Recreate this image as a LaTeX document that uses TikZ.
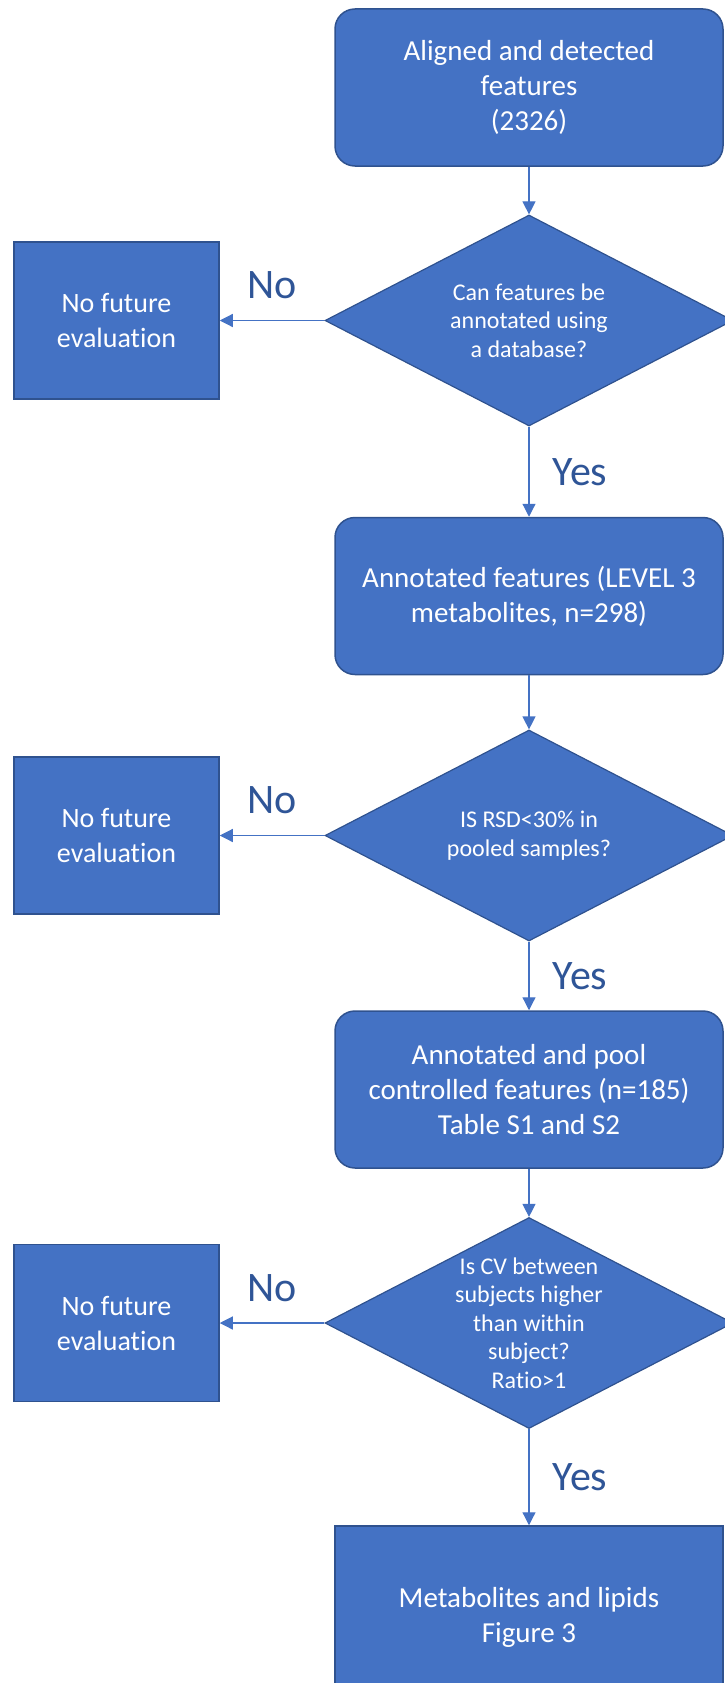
\documentclass[tikz,border=0pt]{standalone}
\usepackage{fontspec}
\setmainfont{Carlito}[Ligatures=NoCommon]
\usetikzlibrary{shapes.geometric,arrows.meta,positioning}
\definecolor{boxblue}{RGB}{68,114,196}
\definecolor{rimblue}{RGB}{47,82,143}
\definecolor{ansblue}{RGB}{47,85,151}
\tikzset{
    proc/.style={rectangle,rounded corners=20pt,fill=boxblue,draw=rimblue,line width=1.5pt,
        minimum width=388pt,minimum height=157pt,text=white,align=center,
        font=\fontsize{29}{35}\selectfont},
    outbox/.style={rectangle,fill=boxblue,draw=rimblue,line width=1.5pt,
        minimum width=205pt,minimum height=157pt,text=white,align=center,
        font=\fontsize{28}{35}\selectfont},
    query/.style={diamond,aspect=1.93,inner sep=0pt,fill=boxblue,draw=rimblue,line width=1.2pt,
        minimum width=408pt,minimum height=211pt,text=white,align=center,
        font=\fontsize{24}{28.5}\selectfont},
    flow/.style={draw=boxblue,line width=1.2pt,-{Triangle[length=13pt,width=13pt]}},
    ans/.style={text=ansblue,inner sep=0pt,font=\fontsize{42}{50}\selectfont}
}
\begin{document}
\begin{tikzpicture}[x=1pt,y=-1pt]
\useasboundingbox (0,0) rectangle (725,1683);
\clip (0,0) rectangle (725,1683);
\node[proc] (adf) at (529,87.5) {Aligned and detected\\features\\(2326)};
\node[query] (qdb) at (529,320.5) {Can features be\\annotated using\\a database?};
\node[outbox] (nf1) at (116.5,320.5) {No future\\evaluation};
\node[proc] (anf) at (529,596) {Annotated features (LEVEL 3\\metabolites, n=298)};
\node[query] (qrsd) at (529,835.5) {IS RSD<30\% in\\pooled samples?};
\node[outbox] (nf2) at (116.5,835.5) {No future\\evaluation};
\node[proc] (apc) at (529,1089.5) {Annotated and pool\\controlled features (n=185)\\Table S1 and S2};
\node[query] (qcv) at (529,1323) {Is CV between\\subjects higher\\than within\\subject?\\Ratio>1};
\node[outbox] (nf3) at (116.5,1323) {No future\\evaluation};
\node[proc,sharp corners,minimum height=182pt] (mlf) at (529,1617) {Metabolites and lipids\\Figure 3};

\draw[flow] (adf) -- (qdb);
\draw[flow] (qdb) -- node[ans,above=21pt] {No} (nf1);
\draw[flow] (qdb) -- node[ans,right=23pt] {Yes} (anf);
\draw[flow] (anf) -- (qrsd);
\draw[flow] (qrsd) -- node[ans,above=21pt] {No} (nf2);
\draw[flow] (qrsd) -- node[ans,right=23pt] {Yes} (apc);
\draw[flow] (apc) -- (qcv);
\draw[flow] (qcv) -- node[ans,above=21pt] {No} (nf3);
\draw[flow] (qcv) -- node[ans,right=23pt] {Yes} (mlf);
\end{tikzpicture}
\end{document}
